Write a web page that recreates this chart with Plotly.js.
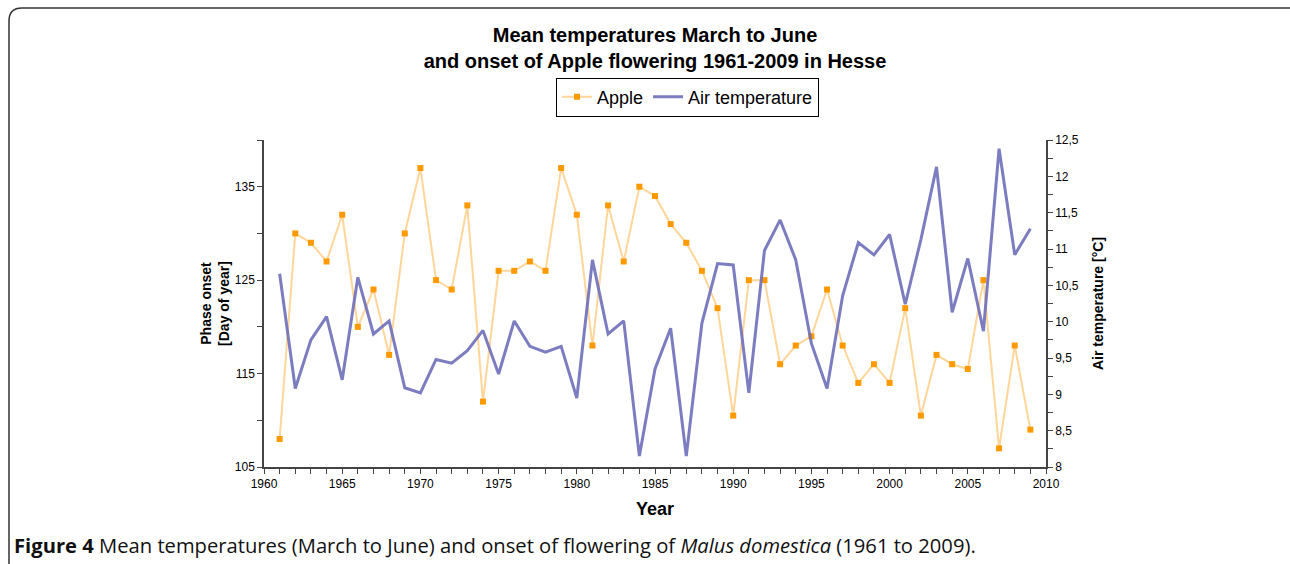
<!DOCTYPE html>
<html>
<head>
<meta charset="utf-8">
<script src="https://cdn.plot.ly/plotly-3.0.1.min.js"></script>
<style>
  html, body { margin: 0; padding: 0; background: #fff; }
  #chart { width: 1290px; height: 564px; }
</style>
</head>
<body>
<div id="chart"></div>
<script>
// ---- data ----
const years = [1961,1962,1963,1964,1965,1966,1967,1968,1969,1970,
               1971,1972,1973,1974,1975,1976,1977,1978,1979,1980,
               1981,1982,1983,1984,1985,1986,1987,1988,1989,1990,
               1991,1992,1993,1994,1995,1996,1997,1998,1999,2000,
               2001,2002,2003,2004,2005,2006,2007,2008,2009];
const appleOnset = [108,130,129,127,132,120,124,117,130,137,
                    125,124,133,112,126,126,127,126,137,132,
                    118,133,127,135,134,131,129,126,122,110.5,
                    125,125,116,118,119,124,118,114,116,114,
                    122,110.5,117,116,115.5,125,107,118,109];
const airTemp = [10.66,9.08,9.75,10.07,9.20,10.61,9.83,10.01,9.09,9.02,
                 9.48,9.43,9.60,9.88,9.28,10.01,9.66,9.58,9.66,8.95,
                 10.85,9.83,10.01,8.15,9.35,9.91,8.15,9.98,10.80,10.78,
                 9.02,10.98,11.40,10.85,9.70,9.08,10.36,11.09,10.92,11.20,
                 10.24,11.13,12.13,10.13,10.87,9.87,12.38,10.92,11.28];
const seriesNames = ["Apple", "Air temperature"];
const leftTickVals = [105,110,115,120,125,130,135,140];
const leftTickText = ["105","","115","","125","","135",""];
const rightTickVals = [8,8.25,8.5,8.75,9,9.25,9.5,9.75,10,10.25,10.5,10.75,11,11.25,11.5,11.75,12,12.25,12.5];
const rightTickText = ["8","","8,5","","9","","9,5","","10","","10,5","","11","","11,5","","12","","12,5"];
const xTickVals = [1960,1965,1970,1975,1980,1985,1990,1995,2000,2005,2010];
const xTickText = ["1960","1965","1970","1975","1980","1985","1990","1995","2000","2005","2010"];

// ---- layout geometry ----
const W = 1290, H = 564;
const M = {l: 264, r: 244, t: 140, b: 97};
const pw = W - M.l - M.r, ph = H - M.t - M.b;
const px = v => (v - M.l) / pw;       // pixel x -> paper
const py = v => (H - M.b - v) / ph;   // pixel y -> paper

const framePath = `M ${px(9)} ${py(566)} L ${px(9)} ${py(21)} Q ${px(9)} ${py(8)} ${px(22)} ${py(8)} L ${px(1292)} ${py(8)}`;

const FONT = "Liberation Sans, Arial, sans-serif";
const axisFont = {family: FONT, size: 12, color: "#000"};

const traces = [
  {
    x: years, y: appleOnset, name: seriesNames[0], type: "scatter", mode: "lines+markers",
    yaxis: "y",
    line: {color: "rgba(255,195,110,0.7)", width: 2},
    marker: {color: "#FF9900", symbol: "square", size: 6}
  },
  {
    x: years, y: airTemp, name: seriesNames[1], type: "scatter", mode: "lines",
    yaxis: "y2",
    line: {color: "rgba(110,110,185,0.9)", width: 3}
  }
];

const layout = {
  width: W, height: H,
  margin: M,
  paper_bgcolor: "#fff", plot_bgcolor: "#fff",
  font: {family: FONT, color: "#000"},
  title: {
    text: "<b>Mean temperatures March to June<br>and onset of Apple flowering 1961-2009 in Hesse</b>",
    font: {family: FONT, size: 20, color: "#000"},
    x: px(655), xref: "paper", xanchor: "center",
    y: 1 - 42 / H, yref: "container", yanchor: "top"
  },
  showlegend: true,
  legend: {
    orientation: "h",
    x: px(556), xanchor: "left",
    y: py(97), yanchor: "middle",
    bordercolor: "#000", borderwidth: 1,
    font: {family: FONT, size: 18, color: "#000"},
    itemwidth: 30, tracegroupgap: 0
  },
  xaxis: {
    range: [1960, 2010],
    tickvals: xTickVals, ticktext: xTickText,
    ticks: "outside", ticklen: 5, tickcolor: "#444", tickwidth: 1,
    minor: {dtick: 1, tick0: 1960, ticks: "outside", ticklen: 5, tickcolor: "#444", showgrid: false},
    showline: true, linecolor: "#444", linewidth: 1.5,
    showgrid: false, zeroline: false,
    tickfont: axisFont,
    title: {text: "<b>Year</b>", font: {family: FONT, size: 18, color: "#000"}, standoff: 12}
  },
  yaxis: {
    range: [105, 140],
    tickvals: leftTickVals, ticktext: leftTickText,
    ticks: "outside", ticklen: 5, tickcolor: "#444",
    showline: true, linecolor: "#444", linewidth: 1.5,
    showgrid: false, zeroline: false,
    tickfont: axisFont,
    title: {text: "<b>Phase onset<br>[Day of year]</b>", font: {family: FONT, size: 14, color: "#000"}, standoff: 2}
  },
  yaxis2: {
    range: [8, 12.5],
    overlaying: "y", side: "right",
    tickvals: rightTickVals, ticktext: rightTickText,
    ticks: "outside", ticklen: 5, tickcolor: "#444",
    showline: true, linecolor: "#444", linewidth: 1.5,
    showgrid: false, zeroline: false,
    tickfont: axisFont,
    title: {text: "<b>Air temperature [°C]</b>", font: {family: FONT, size: 14, color: "#000"}, standoff: 15}
  },
  shapes: [
    {type: "path", xref: "paper", yref: "paper", path: framePath,
     line: {color: "#333", width: 1.5}, layer: "above"}
  ],
  annotations: [
    {
      xref: "paper", yref: "paper",
      x: px(12), xanchor: "left",
      y: py(545), yanchor: "middle",
      showarrow: false,
      text: "<b>Figure 4</b> Mean temperatures (March to June) and onset of flowering of <i>Malus domestica</i> (1961 to 2009).",
      font: {family: "Open Sans, Noto Sans, sans-serif", size: 20.2, color: "#111"}
    }
  ]
};

Plotly.newPlot("chart", traces, layout, {displayModeBar: false, responsive: false});
</script>
</body>
</html>
